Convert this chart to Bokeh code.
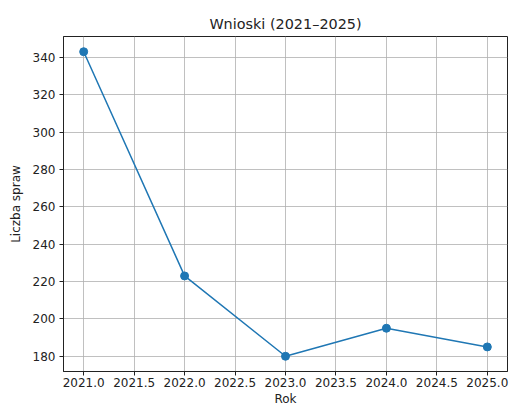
from bokeh.plotting import figure
from bokeh.models import FixedTicker, NumeralTickFormatter, Range1d
from bokeh.embed import file_html
from bokeh.resources import INLINE

years = [2021, 2022, 2023, 2024, 2025]
counts = [343, 223, 180, 195, 185]
x_ticks = [2021.0, 2021.5, 2022.0, 2022.5, 2023.0, 2023.5, 2024.0, 2024.5, 2025.0]
y_ticks = [180, 200, 220, 240, 260, 280, 300, 320, 340]

FONT = "DejaVu Sans"
BLUE = "#1f77b4"

p = figure(output_backend="svg", toolbar_location=None,
           frame_width=444, frame_height=335,
           min_border_left=63, min_border_right=2, min_border_top=36, min_border_bottom=0,
           x_range=Range1d(2020.8, 2025.2), y_range=Range1d(171.85, 351.15),
           title="Wnioski (2021–2025)")

p.line(years, counts, line_color=BLUE, line_width=1.5)
p.scatter(years, counts, size=8, fill_color=BLUE, line_color=BLUE)

p.title.align = "center"
p.title.text_font = FONT
p.title.text_font_style = "normal"
p.title.text_font_size = "14.4px"
p.title.text_color = "#222222"

p.xaxis.ticker = FixedTicker(ticks=x_ticks)
p.yaxis.ticker = FixedTicker(ticks=y_ticks)
p.xaxis.formatter = NumeralTickFormatter(format="0.0")
p.xaxis.axis_label = "Rok"
p.yaxis.axis_label = "Liczba spraw"

for ax in (p.xaxis, p.yaxis):
    ax.axis_label_text_font = FONT
    ax.axis_label_text_font_style = "normal"
    ax.axis_label_text_font_size = "12px"
    ax.axis_label_text_color = "#222222"
    ax.major_label_text_font = FONT
    ax.major_label_text_font_size = "12px"
    ax.major_label_text_color = "#222222"
    ax.axis_line_color = "#222222"
    ax.major_tick_line_color = "#222222"
    ax.major_tick_out = 4
    ax.major_tick_in = 0
    ax.minor_tick_line_color = None
    ax.axis_label_standoff = 2
    ax.major_label_standoff = 2

p.yaxis.major_label_standoff = 4
p.yaxis.axis_label_standoff = 7
p.yaxis.major_label_orientation = 0
p.outline_line_color = "#222222"
p.outline_line_width = 1
p.xgrid.grid_line_color = "#b0b0b0"
p.ygrid.grid_line_color = "#b0b0b0"
p.xgrid.grid_line_width = 0.8
p.ygrid.grid_line_width = 0.8
p.background_fill_color = "white"
p.border_fill_color = "white"

open("out.html", "w").write(file_html(p, INLINE))
